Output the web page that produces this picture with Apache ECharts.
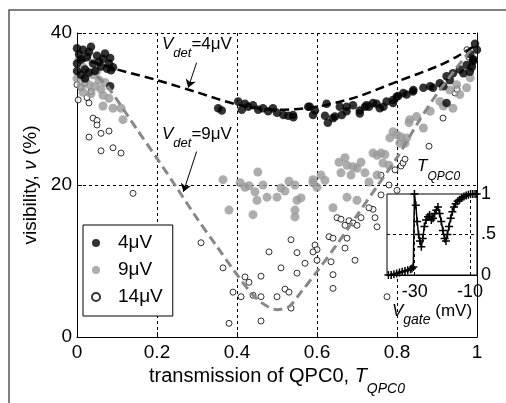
<!DOCTYPE html>
<html>
<head>
<meta charset="utf-8">
<script src="https://cdn.jsdelivr.net/npm/echarts@6/dist/echarts.min.js"></script>
<style>html,body{margin:0;padding:0;background:#fff}#main{width:506px;height:403px}</style>
</head>
<body>
<div id="main"></div>
<script>
// visibility (%) vs transmission T_QPC0
var pts4 = [
  [0.0,38.0],[0.005,37.2],[0.01,36.5],[0.0,36.0],[0.015,37.8],[0.02,35.2],[0.025,36.8],[0.03,37.5],[0.035,38.2],
  [0.04,36.0],[0.045,35.0],[0.05,37.0],[0.055,36.2],[0.06,35.6],[0.065,36.6],[0.07,37.3],[0.075,35.3],[0.08,36.0],
  [0.085,35.1],[0.09,35.5],[0.01,34.5],[0.02,34.0],[0.03,34.8],[0.0,35.0],[0.083,33.0],[0.083,36.7],
  [0.353,30.1],[0.362,29.8],[0.403,31.0],[0.412,29.9],[0.42,30.7],[0.428,30.3],[0.44,30.5],[0.453,29.9],[0.465,30.1],
  [0.478,29.7],[0.49,30.1],[0.50,29.5],[0.516,29.2],[0.528,29.1],[0.54,29.2],[0.541,28.9],[0.578,30.3],[0.582,30.3],
  [0.59,29.2],[0.595,29.8],[0.624,30.7],[0.62,29.1],[0.627,28.2],[0.64,28.8],[0.645,29.0],[0.657,30.3],[0.662,29.2],
  [0.674,29.7],[0.674,30.3],[0.69,30.5],[0.707,29.8],[0.707,29.4],[0.72,30.3],[0.724,30.5],[0.73,30.3],[0.74,30.8],
  [0.749,30.7],[0.757,30.1],[0.766,30.3],[0.774,31.0],[0.79,30.8],[0.79,31.2],[0.799,31.6],[0.803,31.7],[0.816,32.1],
  [0.824,31.9],[0.84,32.3],[0.841,32.5],[0.866,32.8],[0.883,33.0],[0.89,32.8],[0.907,33.4],[0.916,33.0],[0.924,34.3],
  [0.932,33.8],[0.94,34.7],[0.957,35.2],[0.966,34.7],[0.974,35.8],[0.982,34.9],[0.983,37.2],[0.987,35.6],[0.99,36.3],
  [0.991,36.5],[0.995,38.6],[1.0,37.8],[0.924,30.8]
];
var pts9 = [
  [0.005,36.5],[0.015,35.5],[0.02,34.0],[0.03,33.2],[0.04,34.5],[0.045,33.0],[0.05,35.0],[0.055,33.8],[0.06,32.6],
  [0.035,32.0],[0.01,33.0],[0.065,31.8],[0.065,30.4],[0.08,31.4],[0.09,30.1],[0.11,30.1],[0.115,28.6],[0.025,37.0],
  [0.0,34.0],[0.015,32.2],[0.07,33.5],
  [0.365,20.7],[0.38,16.7],[0.408,20.3],[0.42,19.7],[0.43,19.9],[0.445,19.1],[0.45,18.0],[0.452,21.7],[0.44,16.1],
  [0.465,20.0],[0.475,18.4],[0.50,18.4],[0.51,19.6],[0.52,19.2],[0.53,20.5],[0.545,20.0],[0.55,18.0],[0.56,18.3],
  [0.545,16.7],[0.545,15.8],[0.59,20.3],[0.59,20.7],[0.60,19.7],[0.61,21.3],[0.62,20.6],[0.64,17.0],[0.655,23.0],
  [0.66,21.6],[0.67,23.6],[0.675,22.6],[0.675,18.4],[0.685,21.3],[0.69,22.4],[0.70,22.2],[0.70,18.0],[0.71,23.0],
  [0.72,21.6],[0.73,20.4],[0.75,21.3],[0.74,24.2],[0.75,23.9],[0.76,24.2],[0.765,22.9],[0.77,24.0],[0.78,22.6],
  [0.782,26.2],[0.79,27.0],[0.80,26.6],[0.807,25.5],[0.81,26.3],[0.82,25.5],[0.824,26.2],[0.83,28.2],[0.832,28.6],
  [0.849,29.0],[0.866,27.5],[0.883,29.7],[0.907,31.0],[0.916,30.4],[0.932,32.5],[0.94,30.1],[0.949,33.2],[0.957,31.9],
  [0.974,32.8],[0.983,34.1],[0.986,35.4],[0.99,36.5]
];
var pts14 = [
  [0.0,33.2],[0.01,32.8],[0.02,33.4],[0.003,31.2],[0.025,31.5],[0.03,30.8],[0.035,32.3],[0.04,28.8],[0.05,28.5],
  [0.05,27.9],[0.03,26.3],[0.06,26.8],[0.08,27.1],[0.06,24.5],[0.09,24.9],[0.11,24.2],[0.14,18.9],[0.31,12.4],
  [0.365,9.1],[0.39,5.9],[0.41,5.3],[0.38,1.8],[0.42,7.9],[0.43,7.2],[0.46,8.0],[0.44,5.5],[0.46,5.3],[0.46,2.1],
  [0.48,11.2],[0.51,9.1],[0.50,5.3],[0.52,6.3],[0.53,5.9],[0.535,3.8],[0.535,12.8],[0.55,11.1],[0.55,8.4],[0.57,9.7],
  [0.595,12.1],[0.60,11.5],[0.59,11.2],[0.60,10.1],[0.63,13.2],[0.64,13.0],[0.635,9.9],[0.64,8.2],[0.64,6.4],
  [0.65,15.7],[0.66,15.5],[0.67,14.7],[0.67,11.7],[0.675,13.0],[0.68,15.3],[0.69,15.0],[0.70,14.7],[0.71,15.7],
  [0.695,10.1],[0.745,15.7],[0.74,16.8],[0.75,14.5],[0.73,17.0],[0.76,18.7],[0.775,5.3],[0.76,21.3],[0.78,20.0],
  [0.80,19.3],[0.795,22.0],[0.81,22.5],[0.815,22.9],[0.82,23.4],[0.88,25.1],[0.915,28.8],[0.945,32.1],[0.95,32.6],
  [0.975,37.8],[0.98,36.8]
];
// dashed guide curves
var fit4 = [[0,36.6],[0.05,36.0],[0.1,35.2],[0.2,33.8],[0.3,32.2],[0.4,30.6],[0.5,29.9],[0.6,30.3],[0.7,31.6],
  [0.8,33.6],[0.9,35.6],[0.95,36.9],[1.0,38.5]];
var fit9 = [[0.05,34.3],[0.08,32.7],[0.15,27.3],[0.2,23.5],[0.25,19.6],[0.3,15.6],[0.35,11.9],[0.4,8.2],[0.45,5.0],
  [0.5,3.6],[0.53,4.0],[0.56,5.9],[0.6,8.6],[0.65,12.2],[0.7,16.0],[0.75,19.8],[0.8,23.6],[0.85,28.0],[0.9,32.0],
  [0.95,35.5],[0.985,37.8]];
// inset: T_QPC0 vs V_gate (mV)
var vGate = [-39.5,-38.5,-37.5,-36.5,-35.5,-34.5,-33.5,-32.5,-31.5,-31,-30.5,-30.1,-29.6,-29.1,-28.6,-28.1,-27.6,
  -27.1,-26.5,-25.9,-25.2,-24.6,-24,-23.4,-22.8,-22.2,-21.6,-21,-20.4,-19.8,-19.2,-18.7,-18.2,-17.6,-17,-16.4,
  -15.8,-15.2,-14.5,-13.8,-13,-12.2,-11.4,-10.6,-9.8,-9,-8.2,-7.6];
var tQpc = [0.0,0.0,0.01,0.02,0.03,0.04,0.05,0.06,0.07,0.08,0.1,1.0,0.86,0.66,0.5,0.42,0.35,0.45,0.6,0.68,0.72,
  0.74,0.68,0.7,0.76,0.8,0.84,0.76,0.66,0.55,0.45,0.42,0.5,0.6,0.7,0.78,0.84,0.88,0.91,0.93,0.95,0.97,0.98,0.99,
  1.0,1.0,1.0,1.0];
var xTicks = [0, 0.2, 0.4, 0.6, 0.8, 1];
var insetXLabels = [-30, -10];

var ff = '"Liberation Sans", Arial, sans-serif';
var grid = {type: [3, 3], color: '#000', width: 1};
var plus = 'path://M0,5L10,5M5,0L5,10';

var chart = echarts.init(document.getElementById('main'));
var option = {
  backgroundColor: '#fff',
  animation: false,
  textStyle: {fontFamily: ff, color: '#000'},
  grid: [
    {left: 77, top: 33, width: 400, height: 304, outerBoundsMode: 'none'},
    {left: 387, top: 194, width: 90, height: 81, show: true, backgroundColor: '#fff', borderColor: '#000', borderWidth: 1, z: 5, outerBoundsMode: 'none'}
  ],
  legend: {
    orient: 'vertical', left: 83, top: 225, align: 'left',
    padding: [8, 10, 9, 8], itemGap: 7, itemWidth: 34, itemHeight: 8,
    backgroundColor: '#fff', borderColor: '#000', borderWidth: 1,
    textStyle: {fontSize: 19, fontFamily: ff, color: '#000', lineHeight: 20},
    data: ['4μV', '9μV', '14μV']
  },
  xAxis: [{
    gridIndex: 0, type: 'value', min: 0, max: 1, interval: 0.2,
    axisLine: {lineStyle: {color: '#000', width: 1}},
    axisTick: {inside: true, length: 5, lineStyle: {color: '#000'}},
    axisLabel: {fontSize: 19, color: '#000', margin: 6, fontFamily: ff,
      formatter: function (v) { return xTicks.indexOf(+v.toFixed(1)) >= 0 ? String(+v.toFixed(1)) : ''; }},
    splitLine: {show: true, lineStyle: grid},
    name: '{a|transmission of QPC0, }{i|T}{s|QPC0}', nameLocation: 'middle', nameGap: 16,
    nameTextStyle: {fontFamily: ff, color: '#000', rich: {
      a: {fontSize: 20, fontFamily: ff, lineHeight: 38, verticalAlign: 'middle'},
      i: {fontSize: 20, fontFamily: ff, fontStyle: 'italic', lineHeight: 38, verticalAlign: 'middle'},
      s: {fontSize: 14, fontFamily: ff, fontStyle: 'italic', lineHeight: 14, verticalAlign: 'bottom'}
    }}
  }, {
    gridIndex: 1, type: 'value', min: -40, max: -7.5, interval: 10, z: 6,
    axisLine: {lineStyle: {color: '#000', width: 1}},
    axisTick: {show: false},
    axisLabel: {fontSize: 18, color: '#000', margin: 8, fontFamily: ff,
      formatter: function (v) { return insetXLabels.indexOf(v) >= 0 ? String(v) : ''; }},
    splitLine: {show: false},
    name: '{v|V}{s|gate}{n| (mV)}', nameLocation: 'middle', nameGap: 20,
    nameTextStyle: {fontFamily: ff, color: '#000', rich: {
      v: {fontSize: 17, fontFamily: ff, fontStyle: 'italic', lineHeight: 32, verticalAlign: 'middle'},
      s: {fontSize: 14, fontFamily: ff, fontStyle: 'italic', lineHeight: 14, verticalAlign: 'bottom'},
      n: {fontSize: 17, fontFamily: ff, lineHeight: 32, verticalAlign: 'middle'}
    }}
  }],
  yAxis: [{
    gridIndex: 0, type: 'value', min: 0, max: 40, interval: 20,
    axisLine: {show: true, lineStyle: {color: '#000', width: 1}},
    axisTick: {show: true, inside: true, length: 5, lineStyle: {color: '#000'}},
    axisLabel: {fontSize: 19, color: '#000', margin: 5, fontFamily: ff},
    splitLine: {show: true, lineStyle: grid},
    name: '{a|visibility, }{i|ν}{a| (%)}', nameLocation: 'middle', nameGap: 30,
    nameTextStyle: {fontFamily: ff, color: '#000', rich: {
      a: {fontSize: 19, fontFamily: ff, lineHeight: 24},
      i: {fontSize: 19, fontFamily: ff, fontStyle: 'italic', lineHeight: 24}
    }}
  }, {
    gridIndex: 1, type: 'value', min: 0, max: 1, interval: 0.5, position: 'right', z: 6,
    axisLine: {show: true, lineStyle: {color: '#000', width: 1}},
    axisTick: {show: false},
    axisLabel: {fontSize: 18, color: '#000', margin: 4, fontFamily: ff,
      formatter: function (v) { return v === 0.5 ? '.5' : String(v); }},
    splitLine: {show: false}
  }, {
    gridIndex: 0, type: 'value', min: 0, max: 40, interval: 20, position: 'right',
    axisLine: {show: true, lineStyle: {color: '#000', width: 1}},
    axisTick: {show: false}, axisLabel: {show: false}, splitLine: {show: false}
  }],
  series: [{
    name: '14μV', type: 'scatter', data: pts14, symbolSize: 6, z: 2,
    itemStyle: {color: '#fff', borderColor: '#000', borderWidth: 1}
  }, {
    name: '9μV', type: 'scatter', data: pts9, symbolSize: 9, z: 2,
    itemStyle: {color: '#999'}
  }, {
    name: '4μV', type: 'scatter', data: pts4, symbolSize: 8.5, z: 2,
    itemStyle: {color: '#000'}
  }, {
    type: 'line', data: fit9, smooth: 0.3, showSymbol: false, z: 3,
    lineStyle: {color: '#888', width: 3, type: [9, 5]},
    markLine: {silent: true, symbol: ['none', 'arrow'], symbolSize: 8,
      lineStyle: {color: '#000', width: 1, type: 'solid'}, label: {show: false},
      data: [[{coord: [0.299, 24.4]}, {coord: [0.266, 19.1]}]]}
  }, {
    type: 'line', data: fit4, smooth: 0.3, showSymbol: false, z: 3,
    lineStyle: {color: '#000', width: 2.5, type: [9, 5]},
    markLine: {silent: true, symbol: ['none', 'arrow'], symbolSize: 8,
      lineStyle: {color: '#000', width: 1, type: 'solid'}, label: {show: false},
      data: [[{coord: [0.299, 36.1]}, {coord: [0.278, 32.8]}]]}
  }, {
    type: 'line', xAxisIndex: 1, yAxisIndex: 1, z: 7,
    data: vGate.map(function (v, i) { return [v, tQpc[i]]; }),
    symbol: plus, symbolSize: 8, showAllSymbol: true,
    lineStyle: {color: '#000', width: 1.5},
    itemStyle: {color: 'transparent', borderColor: '#000', borderWidth: 1.5},
    markLine: {silent: true, symbol: 'none', label: {show: false},
      lineStyle: {color: '#000', width: 1, type: [3, 3]},
      data: [{xAxis: -30}, {xAxis: -10}, {yAxis: 0.5}]}
  }],
  graphic: [
    {type: 'rect', z: 0, shape: {x: 9, y: 10, width: 540, height: 440}, style: {fill: 'none', stroke: '#555', lineWidth: 1.5}},
    {type: 'text', z: 20, x: 162, y: 44, style: {text: '{v|V}{s|det}{n|=4μV}', verticalAlign: 'middle', fill: '#000', rich: {
      v: {fontSize: 17, fontFamily: ff, fontStyle: 'italic', lineHeight: 31, verticalAlign: 'middle'},
      s: {fontSize: 13, fontFamily: ff, fontStyle: 'italic', lineHeight: 13, verticalAlign: 'bottom'},
      n: {fontSize: 17, fontFamily: ff, lineHeight: 31, verticalAlign: 'middle'}}}},
    {type: 'text', z: 20, x: 162, y: 134, style: {text: '{v|V}{s|det}{n|=9μV}', verticalAlign: 'middle', fill: '#000', rich: {
      v: {fontSize: 17, fontFamily: ff, fontStyle: 'italic', lineHeight: 31, verticalAlign: 'middle'},
      s: {fontSize: 13, fontFamily: ff, fontStyle: 'italic', lineHeight: 13, verticalAlign: 'bottom'},
      n: {fontSize: 17, fontFamily: ff, lineHeight: 31, verticalAlign: 'middle'}}}},
    {type: 'text', z: 20, x: 417, y: 166, style: {text: '{t|T}{s|QPC0}', verticalAlign: 'middle', fill: '#000', rich: {
      t: {fontSize: 17, fontFamily: ff, fontStyle: 'italic', lineHeight: 33, verticalAlign: 'middle'},
      s: {fontSize: 12, fontFamily: ff, fontStyle: 'italic', lineHeight: 12, verticalAlign: 'bottom'}}}}
  ]
};
chart.setOption(option);
</script>
</body>
</html>
